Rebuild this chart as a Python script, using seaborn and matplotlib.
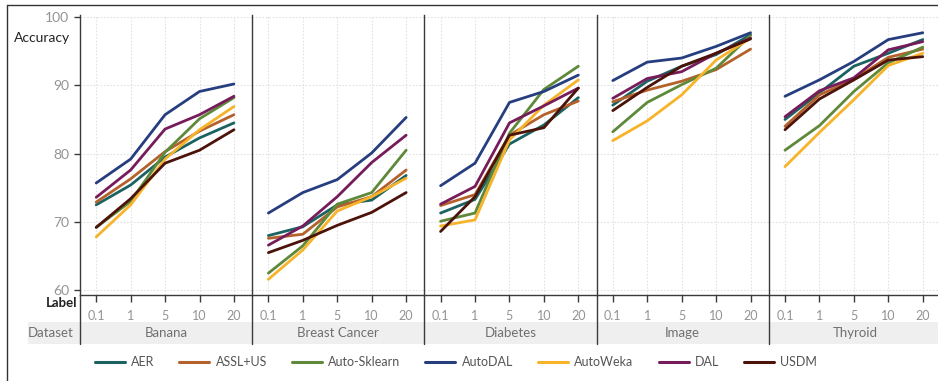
import numpy as np
import pandas as pd
import matplotlib
matplotlib.use("Agg")
import matplotlib.pyplot as plt
import seaborn as sns
from matplotlib.patches import Rectangle
from matplotlib.lines import Line2D

datasets = ["Banana", "Breast Cancer", "Diabetes", "Image", "Thyroid"]
labels = ["0.1", "1", "5", "10", "20"]
methods = ["AER", "ASSL+US", "Auto-Sklearn", "AutoDAL", "AutoWeka", "DAL", "USDM"]
colors = ["#1b6362", "#b5612b", "#5f893a", "#263e7f", "#f7b329", "#761c5b", "#4b1309"]

AER = {"Banana": [72.5, 75.4, 79.5, 82.3, 84.5],
       "Breast Cancer": [68.0, 69.3, 72.5, 73.2, 76.8],
       "Diabetes": [71.3, 73.3, 81.4, 84.2, 88.2],
       "Image": [87.1, 90.6, 92.8, 94.5, 97.4],
       "Thyroid": [85.0, 88.9, 92.8, 94.7, 96.7]}
ASSL_US = {"Banana": [72.9, 76.3, 80.3, 83.3, 85.7],
           "Breast Cancer": [67.6, 68.2, 72.2, 73.7, 77.6],
           "Diabetes": [72.4, 74.0, 82.7, 85.7, 87.7],
           "Image": [87.6, 89.3, 90.6, 92.3, 95.3],
           "Thyroid": [84.0, 88.6, 90.9, 94.1, 95.3]}
Auto_Sklearn = {"Banana": [69.2, 73.0, 80.2, 85.1, 88.2],
                "Breast Cancer": [62.5, 66.5, 72.6, 74.3, 80.5],
                "Diabetes": [70.1, 71.3, 83.0, 89.4, 92.8],
                "Image": [83.2, 87.5, 90.1, 92.5, 97.3],
                "Thyroid": [80.5, 84.1, 89.1, 93.3, 95.6]}
AutoDAL = {"Banana": [75.7, 79.2, 85.7, 89.1, 90.2],
           "Breast Cancer": [71.3, 74.3, 76.2, 80.1, 85.3],
           "Diabetes": [75.3, 78.6, 87.5, 89.1, 91.5],
           "Image": [90.7, 93.4, 94.0, 95.7, 97.7],
           "Thyroid": [88.4, 90.8, 93.5, 96.7, 97.7]}
AutoWeka = {"Banana": [67.8, 72.5, 79.2, 83.5, 86.9],
            "Breast Cancer": [61.6, 65.9, 71.6, 73.7, 76.4],
            "Diabetes": [69.4, 70.3, 82.0, 87.1, 90.8],
            "Image": [81.9, 84.8, 88.6, 93.7, 96.9],
            "Thyroid": [78.1, 83.1, 87.9, 92.9, 94.7]}
DAL = {"Banana": [73.6, 77.6, 83.6, 85.7, 88.4],
       "Breast Cancer": [66.6, 69.4, 73.7, 78.7, 82.7],
       "Diabetes": [72.6, 75.2, 84.5, 87.0, 89.6],
       "Image": [88.1, 91.0, 92.0, 94.7, 96.9],
       "Thyroid": [85.4, 89.2, 91.1, 95.2, 96.4]}
USDM = {"Banana": [69.2, 73.4, 78.6, 80.5, 83.5],
        "Breast Cancer": [65.5, 67.3, 69.5, 71.4, 74.3],
        "Diabetes": [68.6, 73.7, 82.7, 83.8, 89.6],
        "Image": [86.3, 89.7, 92.8, 94.7, 96.8],
        "Thyroid": [83.5, 88.0, 90.8, 93.7, 94.2]}

series = dict(zip(methods, [AER, ASSL_US, Auto_Sklearn, AutoDAL, AutoWeka, DAL, USDM]))

rows = []
for m in methods:
    for d in datasets:
        for i, lab in enumerate(labels):
            rows.append({"method": m, "dataset": d, "pos": i, "label": lab,
                         "acc": series[m][d][i]})
df = pd.DataFrame(rows)

sns.set_theme(style="white")
plt.rcParams["font.family"] = ["Lato", "DejaVu Sans"]

W, H = 938, 381
fig = plt.figure(figsize=(W / 100, H / 100), dpi=100)

def fx(px):
    return px / W

def fy(py):
    return 1 - py / H

pal = dict(zip(methods, colors))
left0 = 80
pw = 172.2
top, bottom = 15, 295
tick_gray = "#939393"
sep_color = "#3a3a3a"

# dataset band
fig.patches.append(Rectangle((fx(28), fy(344)), fx(W) - fx(28), fy(322) - fy(344),
                             transform=fig.transFigure, facecolor="#eeefee",
                             edgecolor="none", zorder=0))

for k, d in enumerate(datasets):
    x0 = left0 + k * pw
    ax = fig.add_axes([fx(x0), fy(bottom), fx(pw), fy(top) - fy(bottom)])
    sub = df[df["dataset"] == d]
    sns.lineplot(data=sub, x="pos", y="acc", hue="method", hue_order=methods,
                 palette=pal, linewidth=2.0, legend=False, ax=ax)
    ax.set_xlim(-0.47, 4.53)
    ax.set_ylim(59.3, 100.3)
    ax.set_xticks(range(5))
    ax.set_xticklabels(labels)
    ax.set_yticks([60, 70, 80, 90, 100])
    ax.grid(True, color="#e2e2e2", linestyle=(0, (1.5, 1.5)), linewidth=0.8)
    ax.set_axisbelow(True)
    for s in ["top", "right"]:
        ax.spines[s].set_visible(False)
    ax.spines["bottom"].set_color(sep_color)
    ax.spines["bottom"].set_linewidth(1.0)
    ax.spines["left"].set_color(sep_color)
    ax.spines["left"].set_linewidth(1.0)
    ax.tick_params(axis="x", direction="out", length=5, width=1, color=sep_color,
                   pad=6, labelsize=9, labelcolor=tick_gray, bottom=True)
    if k == 0:
        ax.tick_params(axis="y", direction="out", length=4, width=1, color=sep_color,
                       pad=4, labelsize=10, labelcolor=tick_gray, left=True)
    else:
        ax.tick_params(axis="y", left=False, labelleft=False)
    ax.set_xlabel("")
    ax.set_ylabel("")
    # separator line extending through label rows
    fig.lines.append(Line2D([fx(x0), fx(x0)], [fy(bottom), fy(344)],
                            transform=fig.transFigure, color=sep_color, linewidth=1.0))
    fig.text(fx(x0 + pw / 2), fy(333), d, ha="center", va="center",
             fontsize=9.5, color="#707070")

fig.text(fx(14), fy(38), "Accuracy", ha="left", va="center", fontsize=10, color="#222222")
fig.text(fx(77), fy(303), "Label", ha="right", va="center", fontsize=9.5,
         color="#222222", fontweight="bold")
fig.text(fx(74), fy(333), "Dataset", ha="right", va="center", fontsize=9.5, color="#707070")

# outer frame (left and top)
fig.lines.append(Line2D([fx(7), fx(7)], [fy(5), 0], transform=fig.transFigure,
                        color="#333333", linewidth=1.0))
fig.lines.append(Line2D([fx(7), 1], [fy(5), fy(5)], transform=fig.transFigure,
                        color="#333333", linewidth=1.0))

handles = [Line2D([0], [0], color=c, linewidth=2.2) for c in colors]
fig.legend(handles, methods, loc="center", bbox_to_anchor=(fx(456), fy(362)),
           ncol=7, frameon=False, fontsize=9, handlelength=2.4, handletextpad=0.5,
           columnspacing=2.0, labelcolor="#555555")

fig.savefig("out.png", dpi=100)
